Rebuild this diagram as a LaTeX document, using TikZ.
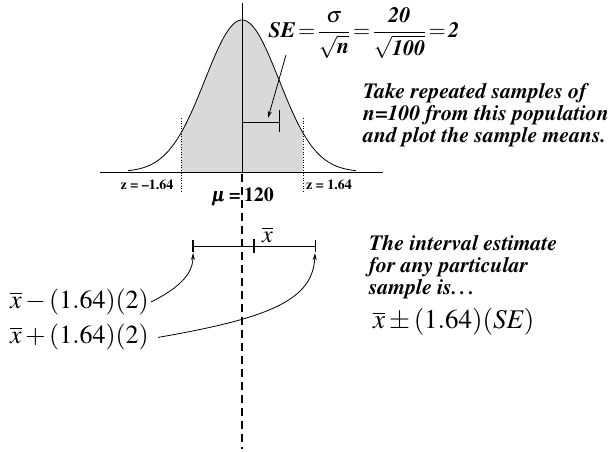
\documentclass[tikz,border=0pt]{standalone}
\usepackage[T1]{fontenc}
\usepackage{amsmath}
\usepackage{mathptmx}
\usetikzlibrary{positioning,arrows.meta}
\newcommand{\xb}{\overline{x}}
\newcommand{\bell}[1]{172-152*exp(-0.5*((#1-242)/37)^2)}
\tikzset{
  note/.style={font=\fontsize{21.7}{22}\selectfont\bfseries\itshape, align=left, inner sep=0pt},
  zlabel/.style={font=\fontsize{14}{16}\selectfont\bfseries, inner sep=0pt},
  formula/.style={font=\fontsize{26}{30}\selectfont, inner sep=0pt},
  pointer/.style={-{Stealth[length=7pt,width=4pt]}, line width=0.8pt},
  guide/.style={dotted, line width=0.6pt}
}

\begin{document}
\begin{tikzpicture}[x=1pt,y=-1pt]
\useasboundingbox (0,0) rectangle (611,451);
\fill[black!15] (181,172) -- plot[domain=181:303,samples=60] (\x,{\bell{\x}}) -- (303,172) -- cycle;
\draw[line width=0.8pt] plot[domain=128:356,samples=120] (\x,{\bell{\x}});
\draw[line width=0.8pt] (100,172) -- (383,172);
\draw[guide] (181,118) -- (181,192);
\draw[guide] (303,118) -- (303,192);
\draw[line width=0.8pt] (242,3) -- (242,172);
\draw[line width=1.4pt, dash pattern=on 8pt off 5pt] (242,174) -- (242,449);

\coordinate (mid) at (242,122);
\coordinate (sd) at (279,122);
\draw[line width=0.8pt] (mid) -- (sd);
\draw[line width=0.8pt] ([yshift=12pt]sd) -- ([yshift=-10pt]sd);

\node[font=\fontsize{22}{24}\selectfont, inner sep=0pt] (se) at (364,33) {$\displaystyle\text{\bfseries\itshape SE}\!=\!\frac{\sigma}{\sqrt{\text{\bfseries\itshape n}}}\!=\!\frac{\text{\bfseries\itshape 20}}{\sqrt{\text{\bfseries\itshape 100}}}\!=\!\text{\bfseries\itshape 2}$};
\coordinate (seTail) at (286,55);
\coordinate (seTip) at (268,118);
\draw[pointer] (seTail) -- (seTip);

\node[note, anchor=west] (take) at (363,115) {Take repeated samples of\\n=100 from this population\\and plot the sample means.};

\node[zlabel] (zl) at (147,185) {z = \textendash1.64};
\node[zlabel] (zr) at (329,185) {z = 1.64};
\node[font=\fontsize{20}{24}\selectfont\bfseries, inner sep=0pt] (mu) at (243,197) {$\pmb{\mu}$\,=\,120};

\coordinate (ilo) at (193,246);
\coordinate (ihi) at (315,246);
\coordinate (ixb) at (254,246);
\draw[line width=0.8pt] (ilo) -- (ihi);
\draw[line width=1.6pt] ([yshift=6pt]ilo) -- ([yshift=-6pt]ilo);
\draw[line width=0.8pt] ([yshift=6pt]ihi) -- ([yshift=-6pt]ihi);
\draw[line width=2.2pt] ([yshift=7pt]ixb) -- ([yshift=-7pt]ixb);
\node[font=\fontsize{24}{28}\selectfont, inner sep=0pt] (xbl) [above right=3pt and 8pt of ixb] {$\xb$};

\node[formula, anchor=west] (lower) at (10,302) {$\xb-(1.64)(2)$};
\node[formula, below=9pt of lower.south west, anchor=north west] (upper) {$\xb+(1.64)(2)$};
\draw[pointer] ([xshift=2pt]lower.east) .. controls (175,290) and (193,276) .. ([yshift=-7pt]ilo);
\draw[pointer] ([xshift=9pt]upper.east) .. controls (270,318) and (313,300) .. ([yshift=-7pt]ihi);

\node[note, anchor=west] (est) at (369,267) {The interval estimate\\for any particular\\sample is\ldots};
\node[formula, font=\fontsize{27}{30}\selectfont, anchor=west] (pm) at (373,322) {$\xb\pm(1.64)(\mathit{SE})$};
\end{tikzpicture}
\end{document}
